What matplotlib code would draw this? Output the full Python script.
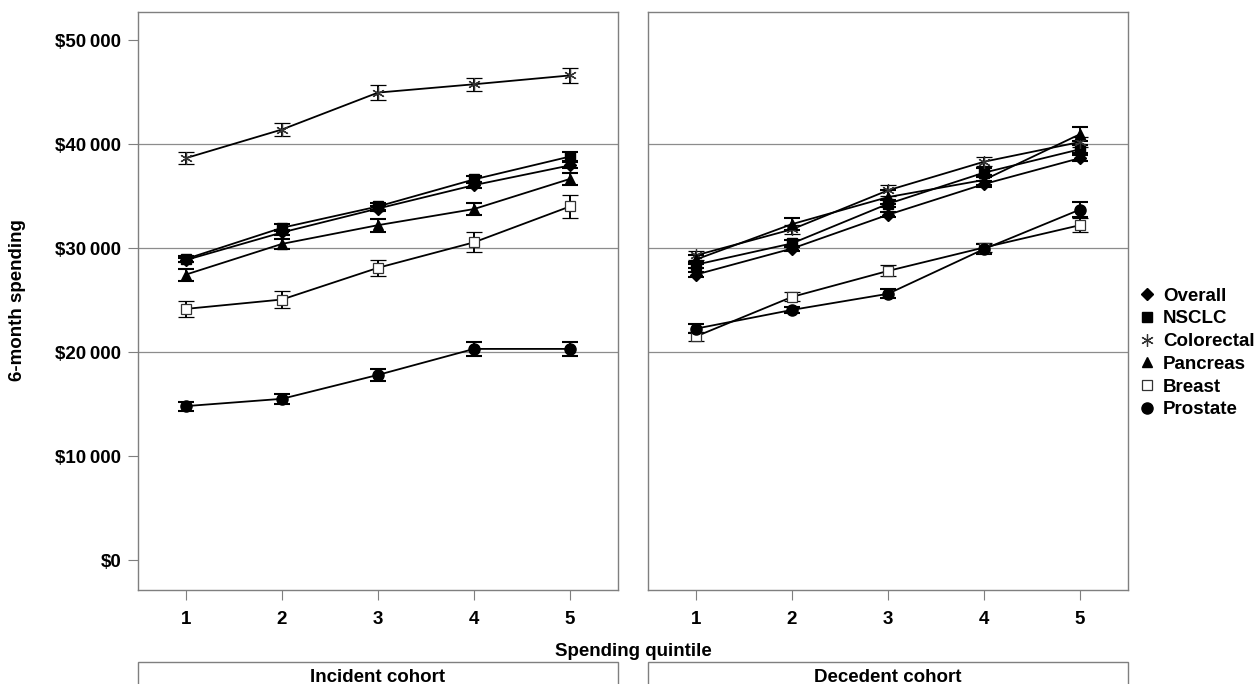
import numpy as np
import matplotlib.pyplot as plt
from matplotlib.patches import Rectangle

plt.rcParams['font.family'] = ['Liberation Sans', 'DejaVu Sans']
plt.rcParams['font.weight'] = 'bold'

quintiles = [1, 2, 3, 4, 5]
series = ['Overall', 'NSCLC', 'Colorectal', 'Pancreas', 'Breast', 'Prostate']

# Incident cohort: mean and half-width of the interval
incident = {
    'Overall':    [28850, 31500, 33800, 36050, 37950],
    'NSCLC':      [28950, 31950, 34000, 36600, 38800],
    'Colorectal': [38650, 41400, 44950, 45750, 46600],
    'Pancreas':   [27450, 30400, 32200, 33750, 36650],
    'Breast':     [24150, 25050, 28100, 30550, 34000],
    'Prostate':   [14800, 15500, 17800, 20300, 20300],
}
incident_err = {
    'Overall':    [200, 250, 250, 300, 300],
    'NSCLC':      [250, 350, 300, 350, 400],
    'Colorectal': [560, 640, 690, 620, 740],
    'Pancreas':   [580, 500, 640, 600, 600],
    'Breast':     [770, 850, 770, 960, 1120],
    'Prostate':   [430, 480, 560, 670, 700],
}

# Decedent cohort
decedent = {
    'Overall':    [27450, 29950, 33200, 36150, 38650],
    'NSCLC':      [28400, 30450, 34250, 37250, 39500],
    'Colorectal': [29300, 31800, 35550, 38300, 40200],
    'Pancreas':   [28900, 32300, 34900, 36550, 40950],
    'Breast':     [21500, 25300, 27800, 30050, 32200],
    'Prostate':   [22250, 24050, 25600, 29900, 33700],
}
decedent_err = {
    'Overall':    [200, 200, 250, 250, 300],
    'NSCLC':      [300, 350, 350, 400, 400],
    'Colorectal': [420, 450, 500, 450, 500],
    'Pancreas':   [450, 600, 650, 500, 700],
    'Breast':     [450, 430, 530, 450, 690],
    'Prostate':   [450, 300, 450, 450, 690],
}

yticks = [0, 10000, 20000, 30000, 40000, 50000]
ytick_labels = ['$0', '$10\u2009000', '$20\u2009000', '$30\u2009000', '$40\u2009000', '$50\u2009000']
gridlines = [20000, 30000, 40000]
panel_titles = ['Incident cohort', 'Decedent cohort']

styles = {
    'Overall':    dict(marker='D', ms=6, mfc='black', mec='black'),
    'NSCLC':      dict(marker='s', ms=7, mfc='black', mec='black'),
    'Colorectal': dict(marker=(6, 2, 0), ms=9, mfc='none', mec='#333333', mew=0.9),
    'Pancreas':   dict(marker='^', ms=7.5, mfc='black', mec='black'),
    'Breast':     dict(marker='s', ms=7, mfc='white', mec='#333333', mew=0.9),
    'Prostate':   dict(marker='o', ms=8, mfc='black', mec='black'),
}

W, H = 1254, 684
fig = plt.figure(figsize=(W / 100, H / 100), dpi=100)
frame_col = '#7f7f7f'

lefts = [138, 648]
pw = 480
top, bottom = 12, 590
axes = []
for i, (data, err) in enumerate([(incident, incident_err), (decedent, decedent_err)]):
    ax = fig.add_axes([lefts[i] / W, 1 - bottom / H, pw / W, (bottom - top) / H])
    axes.append(ax)
    for g in gridlines:
        ax.axhline(g, color='#8c8c8c', lw=0.9, zorder=0)
    for s in series:
        st = styles[s]
        ax.errorbar(quintiles, data[s], yerr=err[s], color='black', lw=1.3,
                    elinewidth=1.4, capsize=5.5, capthick=1.5, label=s, zorder=3,
                    **st)
    ax.set_xlim(0.5, 5.5)
    ax.set_ylim(-2885, 52700)
    ax.set_xticks(quintiles)
    ax.set_xticklabels([str(q) for q in quintiles], fontsize=13.5, fontweight='bold')
    ax.tick_params(axis='x', length=7, width=0.8, color=frame_col, pad=8)
    for sp in ax.spines.values():
        sp.set_color(frame_col)
        sp.set_linewidth(1.0)
    if i == 0:
        ax.set_yticks(yticks)
        ax.set_yticklabels(ytick_labels, fontsize=13.5, fontweight='bold')
        ax.tick_params(axis='y', length=7, width=0.8, color=frame_col, pad=5)
    else:
        ax.set_yticks([])

    # strip label under the panel
    fig.patches.append(Rectangle((lefts[i] / W, -0.05), pw / W, 0.05 + (H - 662) / H,
                                 transform=fig.transFigure, fill=False,
                                 edgecolor=frame_col, lw=1.0))
    fig.text((lefts[i] + pw / 2) / W, 1 - 677 / H, panel_titles[i],
             ha='center', va='center', fontsize=13.5, fontweight='bold')

fig.text((lefts[0] + lefts[1] + pw) / 2 / W, 1 - 651 / H, 'Spending quintile',
         ha='center', va='center', fontsize=13.5, fontweight='bold')
fig.text(18 / W, 1 - 300 / H, '6-month spending', rotation=90,
         ha='center', va='center', fontsize=13.5, fontweight='bold')

leg_handles = []
for s in series:
    st = styles[s]
    h, = axes[1].plot([], [], linestyle='none', color='black', **st)
    leg_handles.append(h)
fig.legend(leg_handles, series, loc='upper left',
           bbox_to_anchor=(1132 / W, 1 - 280 / H), frameon=False,
           prop=dict(size=13.5, weight='bold'), handlelength=0.8,
           handletextpad=0.45, labelspacing=0.3, borderaxespad=0)

fig.savefig('out.png', dpi=100)
